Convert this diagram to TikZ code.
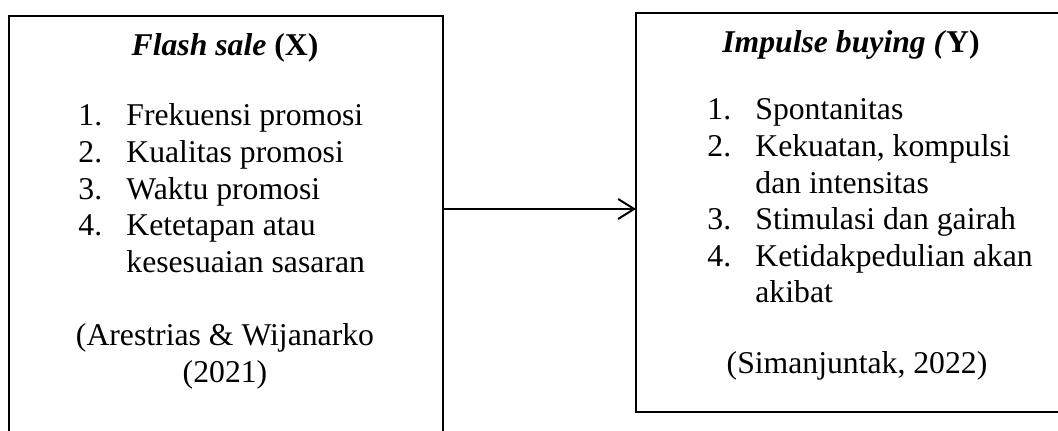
\documentclass[tikz,border=0pt]{standalone}
\usepackage{fontspec}
\setmainfont{Liberation Serif}
\usetikzlibrary{arrows.meta}

\tikzset{
  txt/.style={inner sep=0pt, font=\fontsize{15.85}{18.3}\selectfont},
  frame/.style={line width=1pt},
}
\newcommand{\itemtab}[1]{\begin{tabular}[t]{@{}p{24pt}@{}l@{}}#1\end{tabular}}
\newcommand{\reftab}[1]{\begin{tabular}[t]{@{}c@{}}#1\end{tabular}}

\begin{document}
\begin{tikzpicture}[x=0.5pt,y=0.5pt]
      \useasboundingbox (0,0) rectangle (1058,431);
      \clip (0,0) rectangle (1058,431);
      % the two boxes
      \coordinate(FA) at (9,-20);
      \coordinate(FB) at (443,415);
      \coordinate(IA) at (636,19);
      \coordinate(IB) at (1080,418);
      \draw[frame](FA) rectangle (FB);
      \draw[frame](IA) rectangle (IB);
      % arrow X -> Y
      \coordinate(FE) at (443,222);
      \coordinate(IW) at (636,222);
      \draw[frame,-{Straight Barb[length=8pt,width=10pt]}](FE)--(IW);
      % flash sale
      \node[txt,anchor=base](flash) at (225,375) {\textbf{\textit{Flash sale} (X)}};
      \node[txt,anchor=base west](flashlist) at (78,305) {\itemtab{
        1. & Frekuensi promosi\\
        2. & Kualitas promosi\\
        3. & Waktu promosi\\
        4. & Ketetapan atau\\
           & kesesuaian sasaran}};
      \node[txt,anchor=base](flashref) at (225,85) {\reftab{(Arestrias \& Wijanarko\\ (2021)}};
      % impulse buying
      \node[txt,anchor=base](impulse) at (851,378) {\textbf{\textit{Impulse buying (}Y)}};
      \node[txt,anchor=base west](impulselist) at (707,311) {\itemtab{
        1. & Spontanitas\\
        2. & Kekuatan, kompulsi\\
           & dan intensitas\\
        3. & Stimulasi dan gairah\\
        4. & Ketidakpedulian akan\\
           & akibat}};
      \node[txt,anchor=base](impulseref) at (857,57) {(Simanjuntak, 2022)};
    \end{tikzpicture}
\end{document}
